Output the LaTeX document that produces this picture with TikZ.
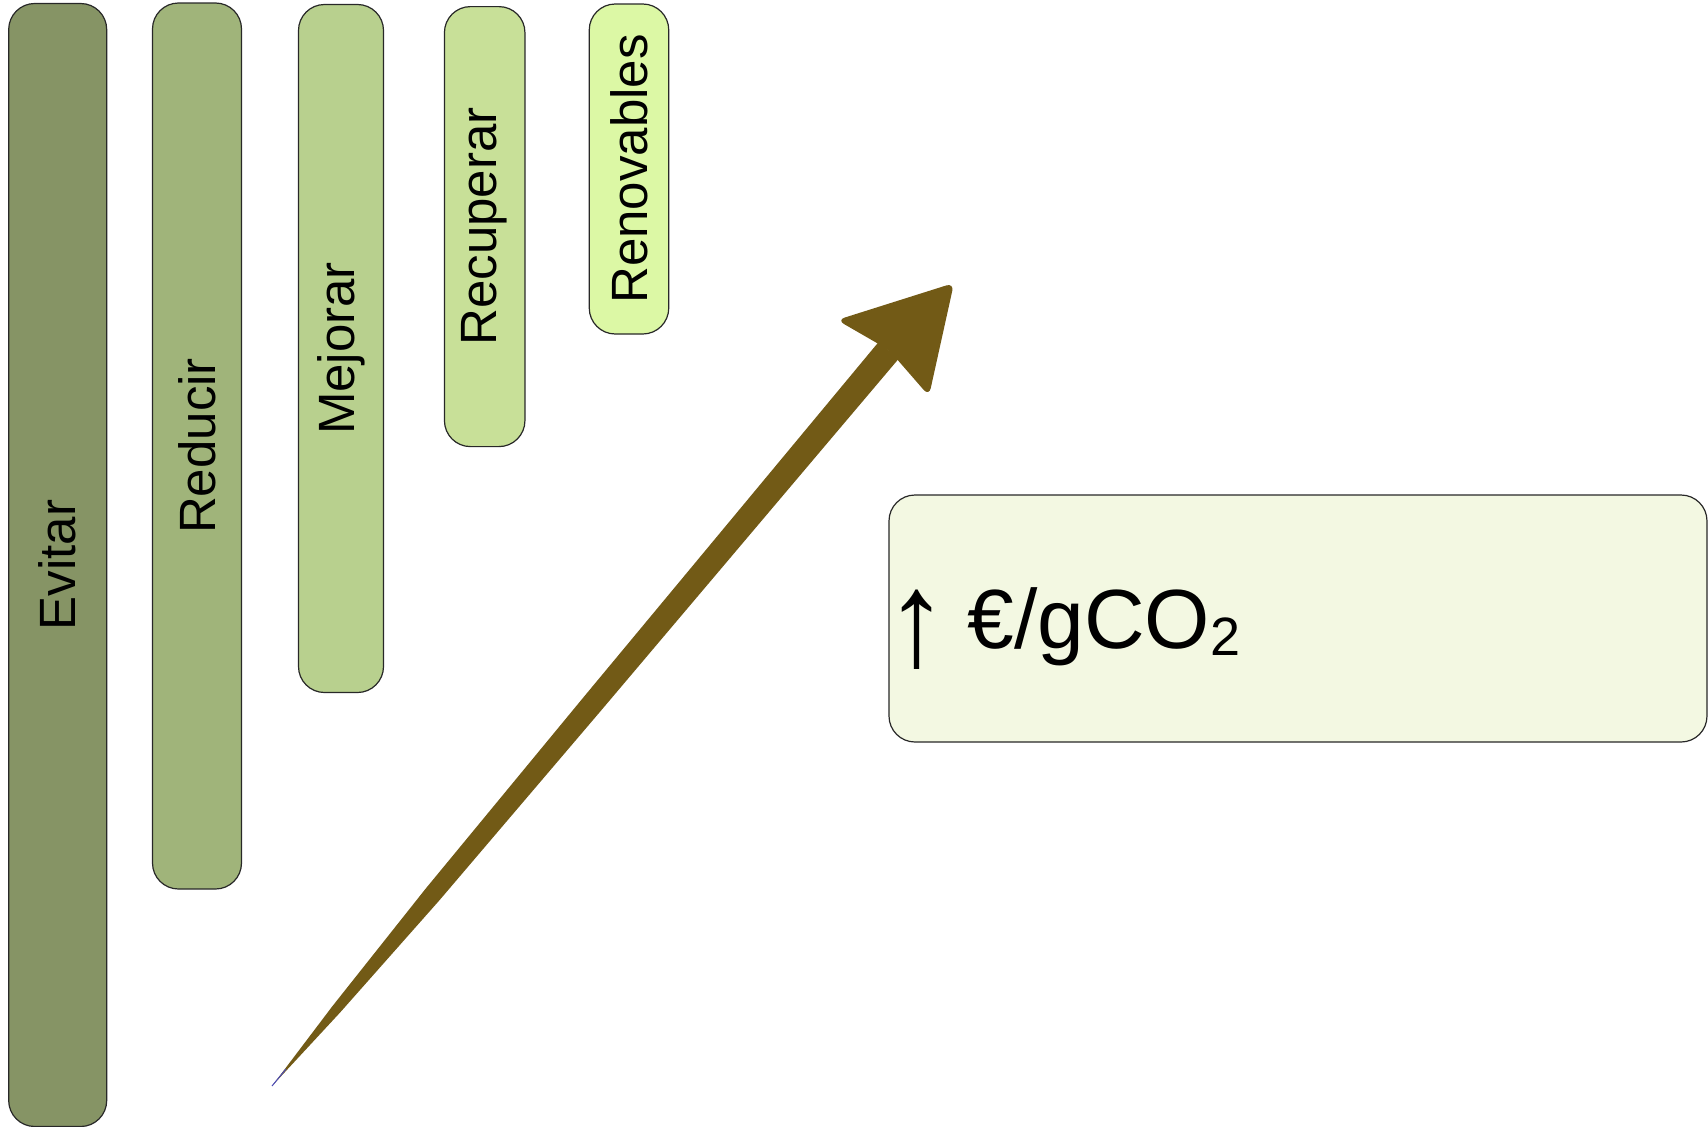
\documentclass[tikz,border=0pt]{standalone}
\usepackage{fontspec}
\setmainfont{Liberation Sans}
\definecolor{evitarc}{RGB}{134,148,101}
\definecolor{reducirc}{RGB}{160,180,122}
\definecolor{mejorarc}{RGB}{184,208,142}
\definecolor{recuperarc}{RGB}{200,224,152}
\definecolor{renovc}{RGB}{220,248,165}
\definecolor{costc}{RGB}{243,248,226}
\definecolor{arrowbrown}{RGB}{114,90,22}
\definecolor{edgec}{RGB}{40,40,40}
\begin{document}
\begin{tikzpicture}[x=1pt,y=-1pt,
  bar/.style={draw=edgec, line width=1.2pt, rounded corners=26pt, inner sep=0pt},
  barlabel/.style={rotate=90, inner sep=0pt, font=\fontsize{51}{51}\selectfont},
  costbox/.style={draw=edgec, line width=1.2pt, rounded corners=26pt, inner sep=0pt, fill=costc}]
\useasboundingbox[fill=white] (0,0) rectangle (1708,1127);

% strategy bars, from the broadest to the narrowest
\node[bar, fill=evitarc, minimum width=98pt, minimum height=1123pt] (evitar) at (57.7,565) {};
\node[bar, fill=reducirc, minimum width=89pt, minimum height=886pt] (reducir) at (197,446) {};
\node[bar, fill=mejorarc, minimum width=85pt, minimum height=688pt] (mejorar) at (341,348.5) {};
\node[bar, fill=recuperarc, minimum width=80.5pt, minimum height=440pt] (recuperar) at (484.7,226.6) {};
\node[bar, fill=renovc, minimum width=79.5pt, minimum height=330pt] (renovables) at (629,169) {};

\node[barlabel] (levitar) at (evitar) {Evitar};
\node[barlabel] (lreducir) at (reducir) {Reducir};
\node[barlabel] (lmejorar) at (mejorar) {Mejorar};
\node[barlabel] (lrecuperar) at (recuperar) {Recuperar};
\node[barlabel] (lrenov) at (renovables) {Renovables};

% cost box
\node[costbox, minimum width=818pt, minimum height=247pt] (cost) at (1298,618.5) {};
\node[anchor=base west, inner sep=0pt, font=\fontsize{84}{84}\selectfont] (costtext) at (885,648)
  {\raisebox{-17pt}{\scalebox{1.5}[1.6]{↑}}\kern-4pt\ €/gCO\raisebox{-7pt}{\fontsize{54}{54}\selectfont 2}};

% brush-stroke arrow, tapering towards its tail
\coordinate (tail) at (272,1086);
\coordinate (tip) at (954,283);
\fill[arrowbrown] (tail) -- (332.4,1006.2) -- (425.7,888.6) -- (584.8,695.7) -- (878.7,341.9)
  -- (898.7,358.7) -- (601.6,709.9) -- (439.5,900.2) -- (340.0,1012.6) -- cycle;
\fill[arrowbrown, rounded corners=8pt] (837,320) -- (tip) -- (929,396) -- (889,350) -- cycle;
\draw[blue!60!black!70, line width=1pt] (tail) -- ++(14,-17);
\end{tikzpicture}
\end{document}
